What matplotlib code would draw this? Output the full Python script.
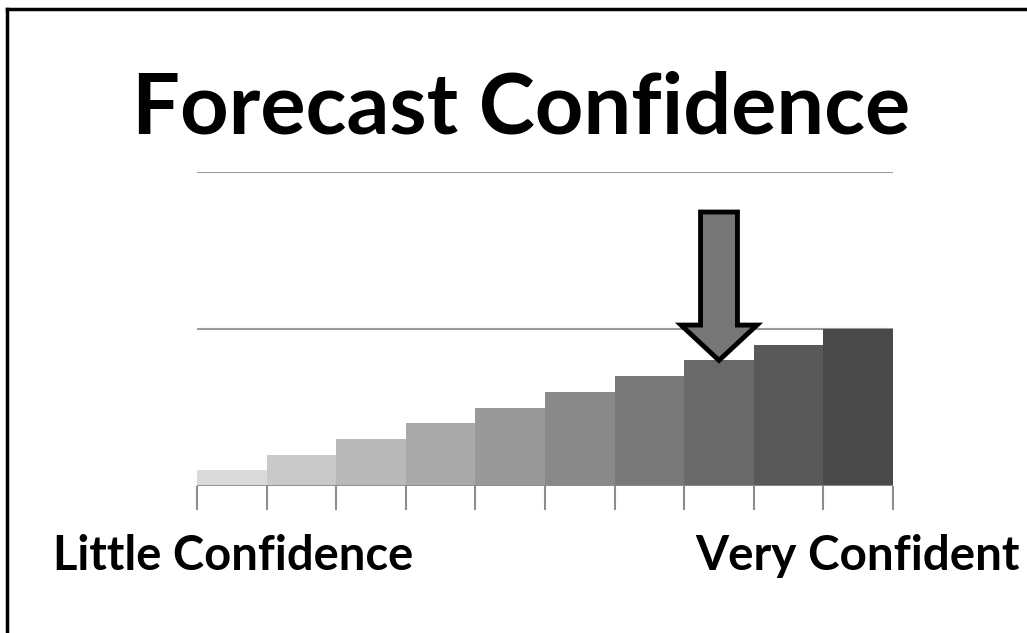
import matplotlib
matplotlib.use("Agg")
import matplotlib.pyplot as plt
from matplotlib.patches import Polygon
from matplotlib.lines import Line2D

levels = list(range(1, 11))
values = [0.1, 0.2, 0.3, 0.4, 0.5, 0.6, 0.7, 0.8, 0.9, 1.0]
colors = ["#dadada", "#c9c9c9", "#b9b9b9", "#a9a9a9", "#999999",
          "#898989", "#797979", "#696969", "#595959", "#494949"]
title = "Forecast Confidence"
low_label = "Little Confidence"
high_label = "Very Confident"
marked_level = 8

FONT = "Lato"

fig = plt.figure(figsize=(10.27, 6.33), dpi=100)
ax = fig.add_axes([197/1027, 1 - 486/633, 696/1027, 314/633])
x = list(range(len(levels)))
ax.bar(x, values, width=1.0, color=colors, linewidth=0, zorder=2)
ax.set_xlim(-0.5, len(levels) - 0.5)
ax.set_ylim(0, 2)
for s in ax.spines.values():
    s.set_visible(False)
ax.set_yticks([0, 1, 2])
ax.yaxis.grid(True, color="#9a9a9a", linewidth=1.5, zorder=0)
ax.tick_params(axis="y", left=False, labelleft=False)
ax.axhline(0, color="#8c8c8c", linewidth=2, zorder=3)
ax.set_xticks([i - 0.5 for i in range(len(levels) + 1)])
ax.tick_params(axis="x", length=17, width=1.5, color="#8c8c8c", labelbottom=False, direction="out")

# arrow pointing to marked level
i = levels.index(marked_level)
tip = values[i]
sw, hw, hb, top = 0.265, 0.545, 1.025, 1.745
pts = [(i - sw, top), (i + sw, top), (i + sw, hb), (i + hw, hb), (i, tip),
       (i - hw, hb), (i - sw, hb)]
ax.add_patch(Polygon(pts, closed=True, facecolor="#767676", edgecolor="black",
                     linewidth=3.5, joinstyle="miter", zorder=5, clip_on=False))

t1 = fig.text(132/1027, 1 - 133/633, title, ha="left", va="baseline",
              fontsize=60, fontweight="bold", family=FONT)
t2 = fig.text(53/1027, 1 - 570/633, low_label, ha="left", va="baseline",
              fontsize=32, fontweight="bold", family=FONT)
t3 = fig.text(1020/1027, 1 - 570/633, high_label, ha="right", va="baseline",
              fontsize=32, fontweight="bold", family=FONT)

# fit text widths to the reference layout
fig.canvas.draw()
r = fig.canvas.get_renderer()
for t, w in [(t1, 778), (t2, 360), (t3, 325)]:
    bw = t.get_window_extent(r).width
    t.set_fontsize(t.get_fontsize() * w / bw)

# frame
fig.add_artist(Line2D([7/1027, 7/1027], [0, 1 - 9/633], color="black", linewidth=2.5))
fig.add_artist(Line2D([7/1027, 1], [1 - 9/633, 1 - 9/633], color="black", linewidth=2.5))

fig.savefig("out.png", dpi=100)
